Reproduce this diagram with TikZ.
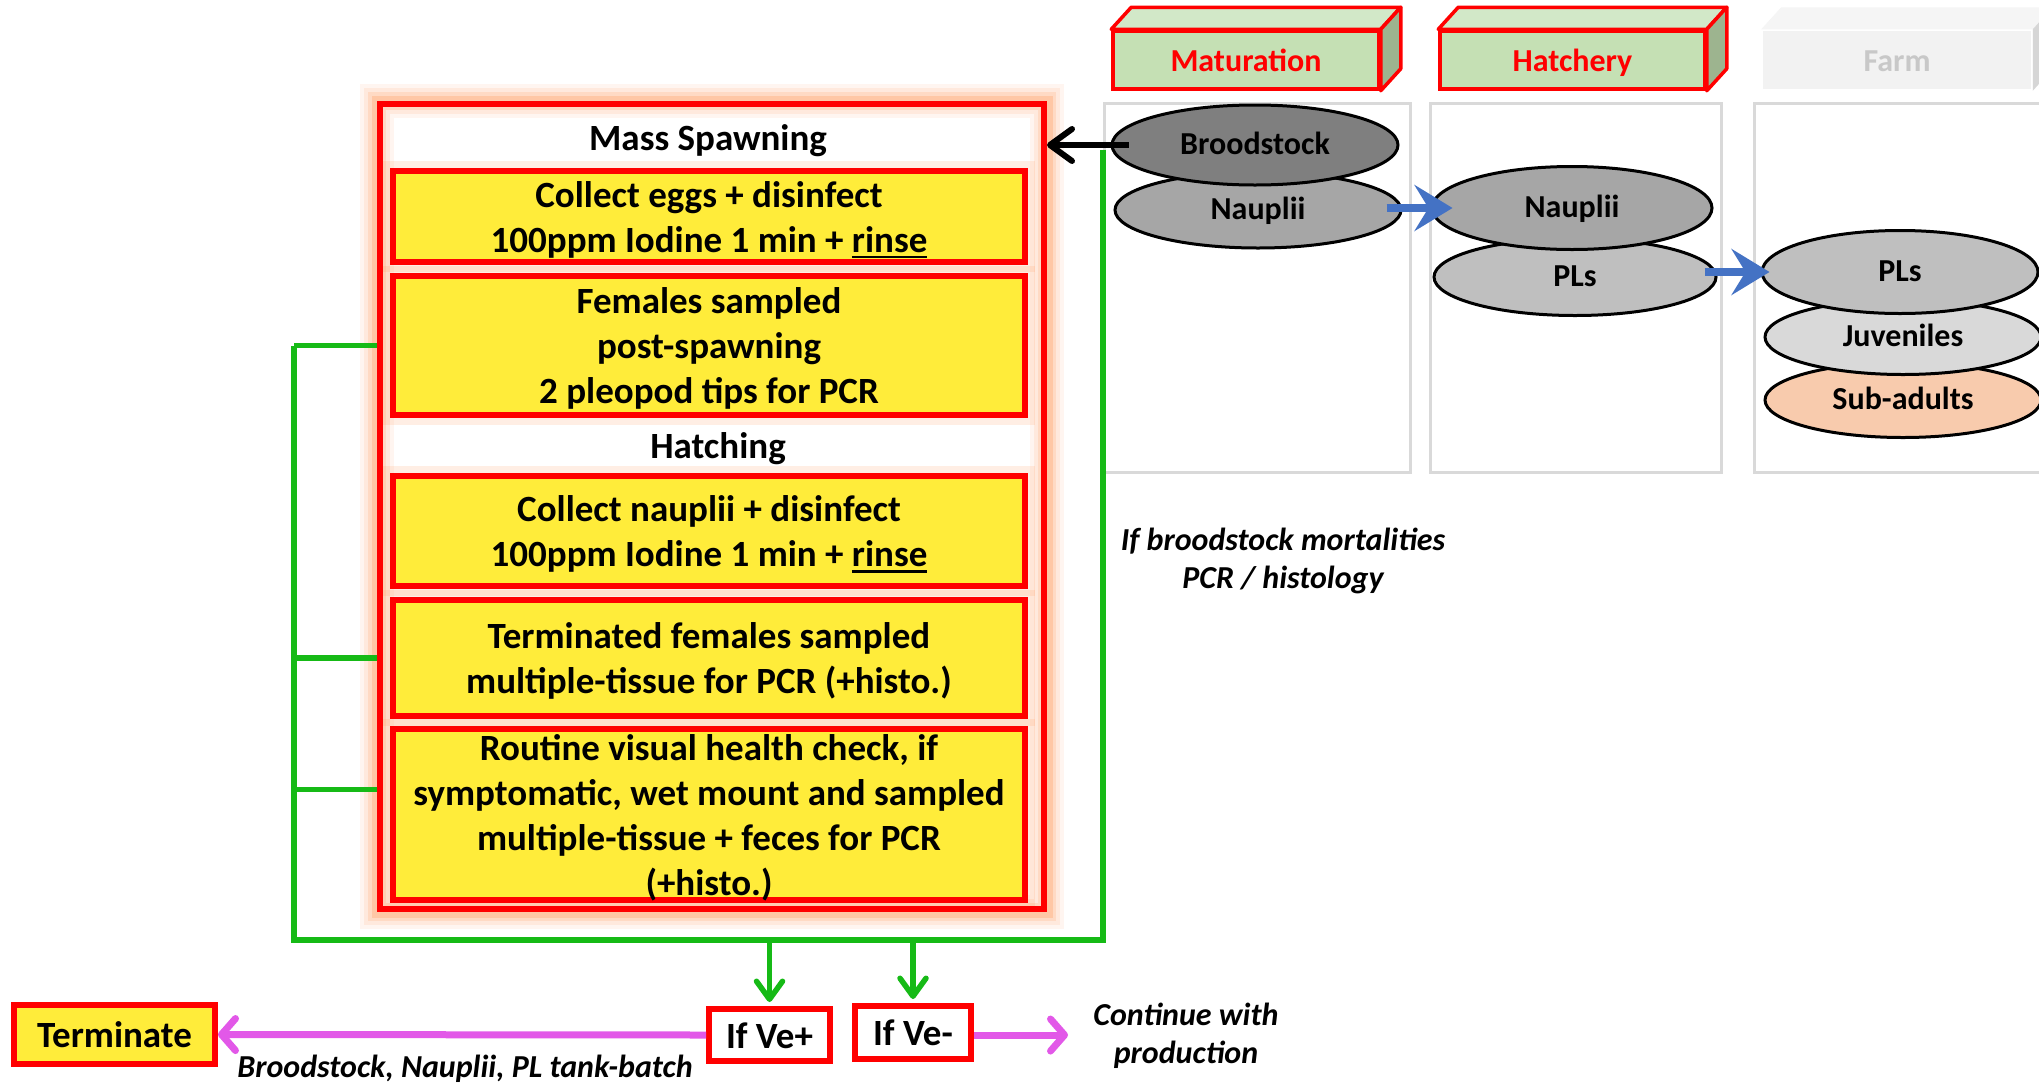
\documentclass[tikz,border=0pt]{standalone}
\usepackage{fontspec}
\setmainfont{Carlito}
\usetikzlibrary{arrows.meta,shapes.geometric,calc,backgrounds}

\definecolor{boxred}{RGB}{255,0,0}
\definecolor{boxyellow}{RGB}{255,236,58}
\definecolor{linegreen}{RGB}{22,186,22}
\definecolor{flowblue}{RGB}{68,114,196}
\definecolor{magline}{RGB}{226,88,232}
\definecolor{hdrfront}{RGB}{197,224,180}
\definecolor{hdrtop}{RGB}{210,232,200}
\definecolor{hdrside}{RGB}{157,180,143}
\definecolor{farmfront}{RGB}{242,242,242}
\definecolor{farmtop}{RGB}{245,245,245}
\definecolor{farmside}{RGB}{214,214,214}
\definecolor{farmtext}{RGB}{200,200,200}
\definecolor{colframe}{RGB}{217,217,217}
\definecolor{glowc}{RGB}{255,140,70}
\definecolor{broodfill}{RGB}{127,127,127}
\definecolor{naupfill}{RGB}{166,166,166}
\definecolor{plfill}{RGB}{191,191,191}
\definecolor{juvfill}{RGB}{217,217,217}
\definecolor{subfill}{RGB}{248,203,173}

\newcommand\setfs[2]{\fontsize{#1}{#2}\selectfont}
\newcommand\thickul[1]{\setbox0\hbox{#1}\rlap{\rule[-6pt]{\wd0}{2.5pt}}\box0}
% centred lines; the taller first row sets the text a little below the box centre
\newcommand\stacklines[1]{\begin{tabular}{@{}c@{}}\rule{0pt}{40pt}#1\end{tabular}}

\tikzset{
  stagehdr/.style={draw=boxred, line width=3.5pt, fill=hdrfront, text=boxred,
    font=\setfs{32}{38}\bfseries, minimum height=58pt, inner sep=0pt,
    text height=27pt, text depth=4pt},
  lifecol/.style={draw=colframe, line width=3pt, inner sep=0pt},
  stage/.style={ellipse, draw=black, line width=3pt, inner sep=0pt,
    font=\setfs{32}{38}\bfseries, text height=25pt, text depth=6pt},
  mainframe/.style={draw=boxred, line width=6pt, inner sep=0pt,
    minimum width=664pt, minimum height=805pt},
  stepbox/.style={draw=boxred, line width=6pt, fill=boxyellow, minimum width=632pt,
    inner xsep=0pt, inner ysep=-12pt, font=\setfs{37}{45}\bfseries},
  decision/.style={draw=boxred, line width=6pt, fill=white,
    inner xsep=0pt, inner ysep=-12pt, font=\setfs{37}{45}\bfseries},
  heading/.style={font=\setfs{37}{45}\bfseries},
  note/.style={font=\setfs{32}{38.5}\bfseries\itshape, align=center},
  greenline/.style={draw=linegreen, line width=5.5pt},
  greenarrow/.style={draw=linegreen, line width=5.5pt,
    -{Straight Barb[length=18pt,width=26pt,round]}, shorten >=4pt},
  blackarrow/.style={draw=black, line width=6pt,
    -{Straight Barb[length=22pt,width=32pt,round]}},
  magarrow/.style={draw=magline, line width=7pt,
    -{Straight Barb[length=14pt,width=32pt,round]}},
  bluearrow/.style={draw=flowblue, line width=8pt,
    -{Stealth[length=38pt,width=46pt,inset=14pt]}},
}

\begin{document}
\begin{tikzpicture}[x=1pt,y=-1pt]
\useasboundingbox (0,0) rectangle (2039,1082);

% ---------- production stages (top right) ----------
\node[stagehdr, minimum width=266pt] (mat) at (1246,60) {Maturation};
\node[stagehdr, minimum width=265pt] (hat) at (1572.5,60) {Hatchery};
\foreach \h in {mat,hat}{
  \filldraw[draw=boxred, line width=3.5pt, fill=hdrtop, line join=round]
    (\h.north west) -- ([shift={(20,-22)}]\h.north west)
    -- ([shift={(20,-22)}]\h.north east) -- (\h.north east) -- cycle;
  \filldraw[draw=boxred, line width=3.5pt, fill=hdrside, line join=round]
    (\h.north east) -- ([shift={(20,-22)}]\h.north east)
    -- ([shift={(20,-22)}]\h.south east) -- (\h.south east) -- cycle;
}
\node[stagehdr, draw=none, fill=farmfront, text=farmtext, minimum width=268pt]
  (farm) at (1897,60) {Farm};
\fill[farmtop] (farm.north west) -- ([shift={(20,-22)}]farm.north west)
  -- ([shift={(20,-22)}]farm.north east) -- (farm.north east) -- cycle;
\fill[farmside] (farm.north east) -- ([shift={(20,-22)}]farm.north east)
  -- ([shift={(20,-22)}]farm.south east) -- (farm.south east) -- cycle;

% columns
\node[lifecol, minimum width=306pt, minimum height=369pt] (colmat) at (1257,287.5) {};
\node[lifecol, minimum width=291pt, minimum height=369pt] (colhat) at (1575.5,287.5) {};
\node[lifecol, minimum width=316pt, minimum height=369pt] (colfarm) at (1912,287.5) {};

% life stages
\node[stage, fill=naupfill, minimum width=286pt, minimum height=76pt] (nau1) at (1258,210) {Nauplii};
\node[stage, fill=broodfill, minimum width=286pt, minimum height=80pt] (brood) at (1255,145) {Broodstock};
\node[stage, fill=plfill, minimum width=282pt, minimum height=77pt] (pl2) at (1575,277) {PLs};
\node[stage, fill=naupfill, minimum width=280pt, minimum height=83pt] (nau2) at (1572,208) {Nauplii};
\node[stage, fill=subfill, minimum width=276pt, minimum height=75pt] (sub) at (1903,400) {Sub-adults};
\node[stage, fill=juvfill, minimum width=276pt, minimum height=75pt] (juv) at (1903,337) {Juveniles};
\node[stage, fill=plfill, minimum width=276pt, minimum height=83pt] (pl3) at (1900,272) {PLs};

\draw[bluearrow] ([xshift=-16pt]nau1.east |- nau2.west) -- ([xshift=22pt]nau2.west);
\draw[bluearrow] ([xshift=-13pt]pl2.east |- pl3.west) -- ([xshift=9pt]pl3.west);

% ---------- biosecurity protocol ----------
\node[mainframe] (main) at (712,506.5) {};
\node[heading] (spawn) at (708,141) {Mass Spawning};
\node[stepbox, minimum height=91pt] (eggs) at (709,216.5)
  {\stacklines{Collect eggs + disinfect\\100ppm Iodine 1 min + \thickul{rinse}}};
\node[stepbox, minimum height=139pt] (females) at (709,345.5)
  {\stacklines{Females sampled\\post-spawning\\2 pleopod tips for PCR}};
\node[heading] (hatch) at (718,449) {Hatching};
\node[stepbox, minimum height=110pt] (naupdis) at (709,531)
  {\stacklines{Collect nauplii + disinfect\\100ppm Iodine 1 min + \thickul{rinse}}};
\node[stepbox, minimum height=116pt] (terminated) at (709,658)
  {\stacklines{Terminated females sampled\\multiple-tissue for PCR (+histo.)}};
\node[stepbox, minimum height=171pt] (routine) at (709,814.5)
  {\stacklines{Routine visual health check, if\\symptomatic, wet mount and sampled\\multiple-tissue + feces for PCR\\(+histo.)}};

\begin{scope}[on background layer]
  \fill[white] (0,0) rectangle (2039,1082);
  \foreach \w/\o in {34/0.08,26/0.11,18/0.16,11/0.24}{
    \draw[glowc, line width=\w pt, opacity=\o] (main.south west) rectangle (main.north east);
  }
  \foreach \b in {eggs,females,naupdis,terminated,routine}{
    \draw[glowc, line width=14pt, opacity=0.14] (\b.south west) rectangle (\b.north east);
  }
\end{scope}

\draw[blackarrow] ([xshift=18pt]brood.west) -- (main.east |- brood.west);

% sampling feedback lines
\coordinate (gtop) at (1103,150);
\coordinate (gcorner) at (294,940);
\coordinate (rbranch) at ($(routine.west)+(0,-25)$);
\draw[greenline] (gtop) |- (gcorner) -- (gcorner |- females.west);
\draw[greenline] (gcorner |- females.west) -- (main.west |- females.west);
\draw[greenline] (gcorner |- terminated.west) -- (main.west |- terminated.west);
\draw[greenline] (gcorner |- rbranch) -- (main.west |- rbranch);

\node[note] (mort) at (1283,561) {If broodstock mortalities\\PCR / histology};

% ---------- outcomes ----------
\node[decision, minimum width=121pt, minimum height=52pt] (vepos) at (769.5,1035) {\stacklines{If Ve+}};
\node[decision, minimum width=116pt, minimum height=53pt] (veneg) at (913,1032.5) {\stacklines{If Ve-}};
\node[stepbox, minimum width=201pt, minimum height=59pt] (term) at (114.5,1034.5) {\stacklines{Terminate}};
\node[note] (batch) at (465,1069) {Broodstock, Nauplii, PL tank-batch};
\node[note] (cont) at (1186,1036) {Continue with\\production};
\coordinate (contarrow) at (1068,1035);

\draw[greenarrow] (vepos.north |- gcorner) -- (vepos.north);
\draw[greenarrow] (veneg.north |- gcorner) -- (veneg.north);
\draw[magarrow] (vepos.west) -- (term.east);
\draw[magarrow] (veneg.east |- contarrow) -- (contarrow);
\end{tikzpicture}
\end{document}
